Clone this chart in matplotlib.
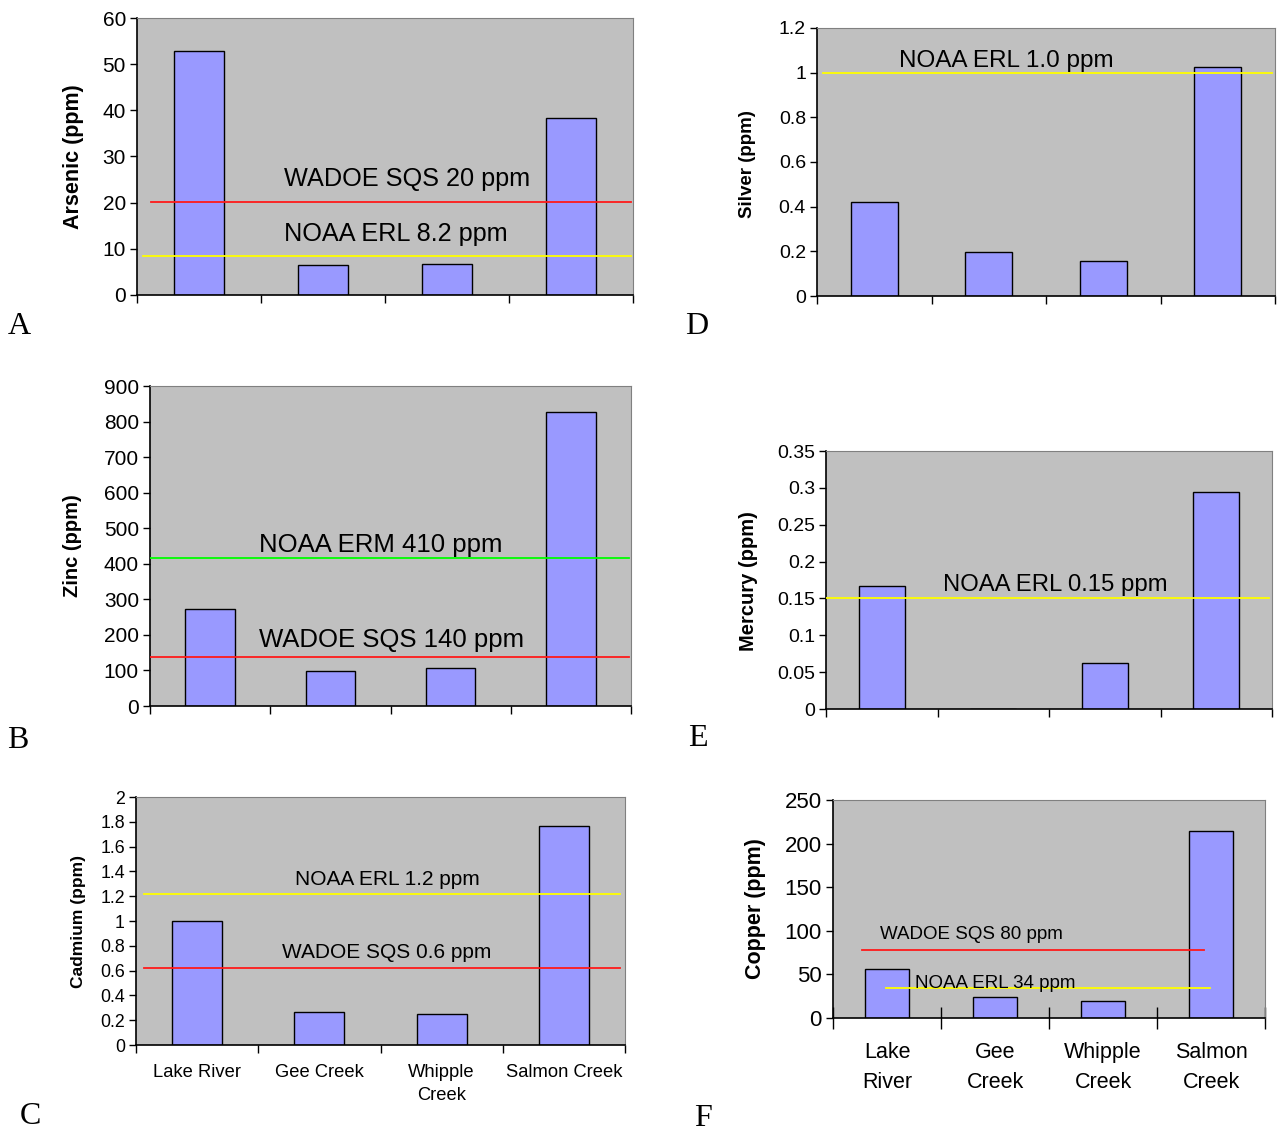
import matplotlib
matplotlib.use("Agg")
import matplotlib.pyplot as plt
from matplotlib.ticker import MultipleLocator, FormatStrFormatter

plt.rcParams['font.family'] = ['Liberation Sans', 'DejaVu Sans']

sites = ["Lake River", "Gee Creek", "Whipple Creek", "Salmon Creek"]
sites_c = ["Lake River", "Gee Creek", "Whipple\nCreek", "Salmon Creek"]
sites_f = ["Lake\nRiver", "Gee\nCreek", "Whipple\nCreek", "Salmon\nCreek"]

arsenic = [52.8, 6.5, 6.8, 38.3]
silver = [0.423, 0.195, 0.155, 1.027]
zinc = [273, 99, 108, 827]
mercury = [0.167, 0.0, 0.063, 0.294]
cadmium = [1.0, 0.27, 0.25, 1.766]
copper = [56, 24, 20, 215]

# guideline levels as drawn on the original
arsenic_sqs, arsenic_erl = 20.2, 8.5
silver_erl = 1.0
zinc_erm, zinc_sqs = 415, 137
mercury_erl = 0.15
cadmium_erl, cadmium_sqs = 1.214, 0.62
copper_sqs, copper_erl = 78, 34.4

W, H = 1283, 1131
fig = plt.figure(figsize=(W / 100, H / 100), dpi=100)

BAR = '#9999ff'
BG = '#c0c0c0'
RED, YEL, GRN = '#ff1a1a', '#ffff00', '#00ff00'


def px_axes(x0, y0, x1, y1):
    return fig.add_axes([x0 / W, 1 - y1 / H, (x1 - x0) / W, (y1 - y0) / H])


def base(box, values, ymax, step, tick_size):
    ax = px_axes(*box)
    ax.set_facecolor(BG)
    x = range(len(values))
    ax.bar(x, values, width=0.41, color=BAR, edgecolor='black', linewidth=1.0, zorder=2)
    ax.set_xlim(-0.5, len(values) - 0.5)
    ax.set_ylim(0, ymax)
    ax.yaxis.set_major_locator(MultipleLocator(step))
    ax.yaxis.set_major_formatter(FormatStrFormatter('%g'))
    ax.set_xticks([-0.5, 0.5, 1.5, 2.5, 3.5])
    ax.set_xticklabels([])
    ax.tick_params(axis='y', labelsize=tick_size, length=5, width=1, pad=3)
    ax.tick_params(axis='x', length=6, width=1)
    for s in ['top', 'right']:
        ax.spines[s].set_color('#808080')
    for s in ['left', 'bottom']:
        ax.spines[s].set_color('black')
        ax.spines[s].set_linewidth(1.2)
    return ax


def guide(ax, y, x0, x1, color):
    ax.plot([x0, x1], [y, y], color=color, lw=1.3, zorder=3)


def ylab(text, x, y, size):
    fig.text(x / W, 1 - y / H, text, rotation=90, ha='center', va='center',
             fontsize=size, fontweight='bold')


def letter(text, x, y):
    fig.text(x / W, 1 - y / H, text, ha='center', va='center', fontsize=23,
             family='Liberation Serif')


# A - arsenic
ax = base((137, 18, 633, 295), arsenic, 60, 10, 15)
guide(ax, arsenic_sqs, -0.39, 3.48, RED)
guide(ax, arsenic_erl, -0.45, 3.48, YEL)
ax.text(0.685, 25.2, "WADOE SQS 20 ppm", fontsize=18.2, va='center')
ax.text(0.685, 13.3, "NOAA ERL 8.2 ppm", fontsize=18.2, va='center')
ylab("Arsenic (ppm)", 73, 157, 15.5)
letter("A", 19, 326)

# D - silver
ax = base((817, 28, 1275, 296), silver, 1.2, 0.2, 14)
guide(ax, silver_erl, -0.45, 3.47, YEL)
ax.text(0.22, 1.05, "NOAA ERL 1.0 ppm", fontsize=17.5, va='center')
ylab("Silver (ppm)", 748, 164, 13.5)
letter("D", 697, 327)

# B - zinc
ax = base((150, 386, 631, 706), zinc, 900, 100, 15)
guide(ax, zinc_erm, -0.5, 3.48, GRN)
guide(ax, zinc_sqs, -0.5, 3.48, RED)
ax.text(0.408, 452, "NOAA ERM 410 ppm", fontsize=18.5, va='center')
ax.text(0.408, 186, "WADOE SQS 140 ppm", fontsize=18.5, va='center')
ylab("Zinc (ppm)", 72, 546, 14.5)
letter("B", 18, 740)

# E - mercury
ax = base((826, 451, 1272, 709), mercury, 0.35, 0.05, 14)
guide(ax, mercury_erl, -0.5, 3.47, YEL)
ax.text(0.546, 0.168, "NOAA ERL 0.15 ppm", fontsize=17.2, va='center')
ylab("Mercury (ppm)", 748, 581, 14.5)
letter("E", 698, 739)

# C - cadmium
ax = base((136, 797, 625, 1045), cadmium, 2, 0.2, 12.8)
guide(ax, cadmium_erl, -0.435, 3.46, YEL)
guide(ax, cadmium_sqs, -0.435, 3.46, RED)
ax.text(0.798, 1.332, "NOAA ERL 1.2 ppm", fontsize=15, va='center')
ax.text(0.698, 0.743, "WADOE SQS 0.6 ppm", fontsize=15, va='center')
ax.set_xticks(range(4), sites_c, minor=True)
ax.tick_params(axis='x', which='minor', length=0, labelsize=13.2, pad=14)
for t in ax.get_xticklabels(minor=True):
    t.set_linespacing(1.45)
ylab("Cadmium (ppm)", 78, 921, 12.5)
letter("C", 30, 1116)

# F - copper
ax = base((833, 800, 1265, 1018), copper, 250, 50, 16)
ax.tick_params(axis='x', direction='inout', length=16)
guide(ax, copper_sqs, -0.23, 2.935, RED)
guide(ax, copper_erl, -0.01, 2.99, YEL)
ax.text(-0.065, 95.6, "WADOE SQS 80 ppm", fontsize=13.5, va='center')
ax.text(0.26, 39, "NOAA ERL 34 ppm", fontsize=13.5, va='center')
ax.set_xticks(range(4), sites_f, minor=True)
ax.tick_params(axis='x', which='minor', length=0, labelsize=15.5, pad=17)
for t in ax.get_xticklabels(minor=True):
    t.set_linespacing(1.6)
ylab("Copper (ppm)", 755, 909, 15.5)
letter("F", 703, 1118)

fig.savefig("out.png", dpi=100)
